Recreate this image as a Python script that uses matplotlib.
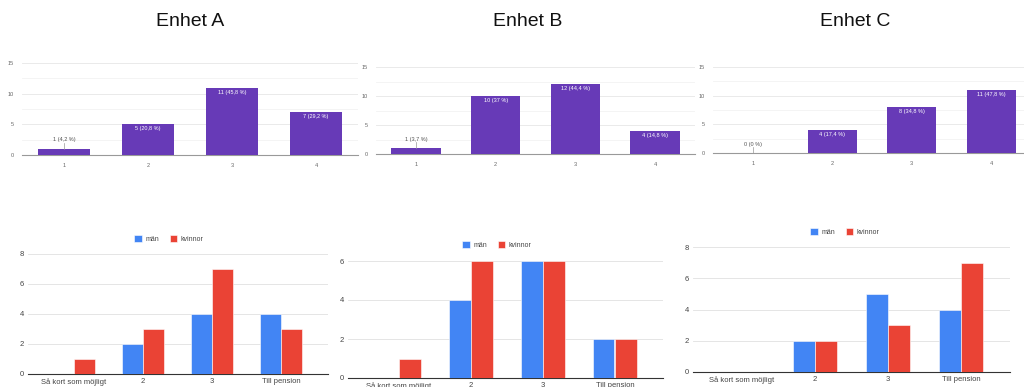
import numpy as np
import matplotlib
matplotlib.use('Agg')
import matplotlib.pyplot as plt

plt.rcParams['font.family'] = ['Liberation Sans', 'DejaVu Sans']

# Data
units = ['Enhet A', 'Enhet B', 'Enhet C']
top_cats = ['1', '2', '3', '4']
top_vals = [[1, 5, 11, 7],
            [1, 10, 12, 4],
            [0, 4, 8, 11]]
top_labels = [['1 (4,2 %)', '5 (20,8 %)', '11 (45,8 %)', '7 (29,2 %)'],
              ['1 (3,7 %)', '10 (37 %)', '12 (44,4 %)', '4 (14,8 %)'],
              ['0 (0 %)', '4 (17,4 %)', '8 (34,8 %)', '11 (47,8 %)']]

bottom_cats = ['Så kort som möjligt', '2', '3', 'Till pension']
man = [[0, 2, 4, 4],
       [0, 4, 6, 2],
       [0, 2, 5, 4]]
kvinnor = [[1, 3, 7, 3],
           [1, 6, 6, 2],
           [0, 2, 3, 7]]
bottom_ymax = [8, 6, 8]

W, H = 1024, 387
fig = plt.figure(figsize=(W / 100, H / 100), dpi=100)

def px_axes(x0, x1, ytop, ybot):
    return fig.add_axes([x0 / W, 1 - ybot / H, (x1 - x0) / W, (ybot - ytop) / H])

purple = '#673ab7'
blue = '#4285f4'
red = '#ea4335'
grey_txt = '#666666'

# titles
for name, x in zip(units, [190, 528, 855]):
    fig.text(x / W, 1 - 22 / H, name, ha='center', va='center', fontsize=14, color='#111111')

# top row
top_boxes = [(22, 358, 63, 155), (376, 695, 67, 154), (713, 1031, 67, 153)]
for i, box in enumerate(top_boxes):
    ax = px_axes(*box)
    x = np.arange(len(top_cats))
    ax.bar(x, top_vals[i], width=0.62, color=purple, zorder=3)
    ax.set_xlim(-0.5, 3.5)
    ax.set_ylim(0, 15)
    ax.set_yticks([0, 5, 10, 15])
    ax.set_yticks([2.5, 7.5, 12.5], minor=True)
    ax.set_xticks(x)
    ax.set_xticklabels(top_cats)
    ax.grid(axis='y', which='major', color='#e6e6e6', lw=0.6, zorder=0)
    ax.grid(axis='y', which='minor', color='#f3f3f3', lw=0.6, zorder=0)
    for s in ['top', 'right', 'left']:
        ax.spines[s].set_visible(False)
    ax.spines['bottom'].set_color('#999999')
    ax.spines['bottom'].set_linewidth(0.8)
    ax.tick_params(axis='both', which='both', length=0, labelsize=4, labelcolor=grey_txt, pad=6)
    for xi, v, lab in zip(x, top_vals[i], top_labels[i]):
        if v < 3:
            ax.plot([xi, xi], [v, v + 1.0], color='#999999', lw=0.5, zorder=4)
            ax.text(xi, v + 1.5, lab, ha='center', va='center', fontsize=4, color='#555555')
        else:
            ax.annotate(lab, (xi, v), xytext=(0, -1.5), textcoords='offset points',
                        ha='center', va='top', fontsize=4, color='white', zorder=5)

# bottom row
bottom_boxes = [(28, 328, 254, 374), (348, 663, 261, 378), (693, 1010, 247, 372)]
bottom_xlims = [(-0.667, 3.68), (-0.71, 3.67), (-0.67, 3.67)]
legend_pos = [(169, 239), (497, 245), (845, 232)]
for i, box in enumerate(bottom_boxes):
    ax = px_axes(*box)
    x = np.arange(len(bottom_cats))
    ax.bar(x - 0.155, man[i], width=0.3, color=blue, edgecolor='white', lw=0.4,
           label='män', zorder=3)
    ax.bar(x + 0.155, kvinnor[i], width=0.3, color=red, edgecolor='white', lw=0.4,
           label='kvinnor', zorder=3)
    ax.set_xlim(*bottom_xlims[i])
    ax.set_ylim(0, bottom_ymax[i])
    ax.set_yticks(np.arange(0, bottom_ymax[i] + 1, 2))
    ax.set_xticks(x)
    ax.set_xticklabels(bottom_cats)
    ax.grid(axis='y', color='#e0e0e0', lw=0.6, zorder=0)
    for s in ['top', 'right', 'left']:
        ax.spines[s].set_visible(False)
    ax.spines['bottom'].set_color('#333333')
    ax.spines['bottom'].set_linewidth(0.8)
    ax.tick_params(axis='both', length=0, labelsize=5.5, labelcolor='#444444', pad=3)
    lx, ly = legend_pos[i]
    ax.legend(loc='center', bbox_to_anchor=(lx / W, 1 - ly / H), bbox_transform=fig.transFigure,
              ncol=2, frameon=False, fontsize=5, handlelength=1.1, handleheight=1.1,
              columnspacing=1.5, handletextpad=0.5, labelcolor='#444444')

fig.savefig('out.png', dpi=100)
